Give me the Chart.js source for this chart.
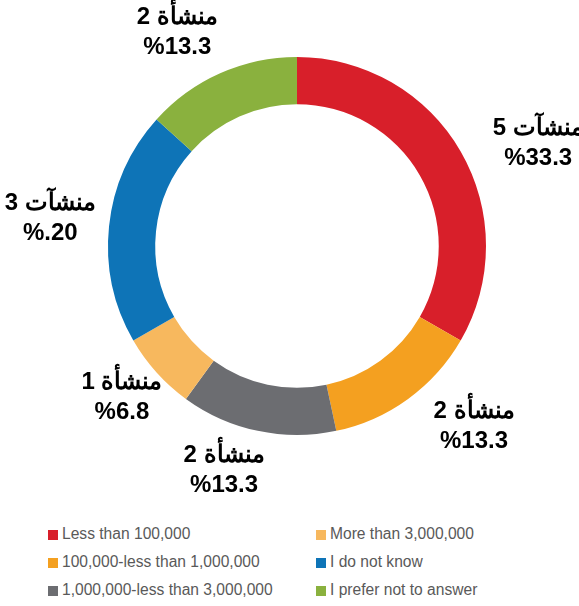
<!DOCTYPE html>
<html>
<head>
<meta charset="utf-8">
<script src="https://cdn.jsdelivr.net/npm/chart.js@4/dist/chart.umd.min.js"></script>
<style>
  body { margin: 0; background: #fff; }
  #wrap { position: relative; width: 579px; height: 606px; }
  #box { position: absolute; left: 0; top: 0; width: 579px; height: 510px; }
  .leg { position: absolute; font: 15.6px "Liberation Sans", Arial, sans-serif; color: #595959; white-space: nowrap; line-height: 18px; }
  .leg span { display: inline-block; width: 10px; height: 10px; margin-right: 4px; vertical-align: -1px; }
</style>
</head>
<body>
<div id="wrap">
  <div id="box"><canvas id="grafico"></canvas></div>
  <div id="legenda"></div>
</div>
<script>
// dados
const categorias = ["Less than 100,000", "100,000-less than 1,000,000", "1,000,000-less than 3,000,000", "More than 3,000,000", "I do not know", "I prefer not to answer"];
const contagens = [5, 2, 2, 1, 3, 2];
const rotulosQtd = ["5 منشآت", "2 منشأة", "2 منشأة", "1 منشأة", "3 منشآت", "2 منشأة"];
const rotulosPct = ["%33.3", "%13.3", "%13.3", "%6.8", "%.20", "%13.3"];
const cores = ["#d81f2a", "#f4a020", "#6c6d71", "#f7b85e", "#0e74b7", "#8ab13e"];

// ajuste fino dos rotulos (px)
const ajustes = [[29, 20], [33, -18], [-22, -15], [7, -13], [-3, -2], [-20, 10]];

const rotulosPlugin = {
  id: "rotulos",
  afterDatasetsDraw(chart) {
    const c = chart.ctx;
    const meta = chart.getDatasetMeta(0);
    c.save();
    c.fillStyle = "#000";
    c.font = "bold 24px 'Liberation Sans', Arial, sans-serif";
    c.textBaseline = "middle";
    meta.data.forEach((arc, i) => {
      const p = arc.getProps(["x", "y", "startAngle", "endAngle", "outerRadius"], true);
      const mid = (p.startAngle + p.endAngle) / 2;
      const r = p.outerRadius + 56;
      const x = p.x + Math.cos(mid) * r + ajustes[i][0];
      const y = p.y + Math.sin(mid) * r + ajustes[i][1];
      // numero a esquerda, palavra a direita
      const partes = rotulosQtd[i].split(" ");
      const num = partes[0];
      const palavra = partes.slice(1).join(" ");
      const wNum = c.measureText(num).width;
      const wEsp = c.measureText(" ").width;
      const wPal = c.measureText(palavra).width;
      const x0 = x - (wNum + wEsp + wPal) / 2;
      c.textAlign = "left";
      c.fillText(num, x0, y - 15);
      c.fillText(palavra, x0 + wNum + wEsp, y - 15);
      c.textAlign = "center";
      c.fillText(rotulosPct[i], x, y + 15);
    });
    c.restore();
  }
};

const ctx = document.getElementById("grafico").getContext("2d");
const grafico = new Chart(ctx, {
  type: "doughnut",
  data: {
    labels: categorias,
    datasets: [{ data: contagens, backgroundColor: cores, borderWidth: 0 }]
  },
  options: {
    responsive: true,
    maintainAspectRatio: false,
    animation: false,
    cutout: "75%",
    layout: { padding: { top: 57, bottom: 75, left: 15, right: 0 } },
    plugins: { legend: { display: false }, tooltip: { enabled: false } }
  },
  plugins: [rotulosPlugin]
});

// legenda em duas colunas
const legenda = document.getElementById("legenda");
const colX = [48, 316];
const linhaY = [525, 553, 581];
categorias.forEach((nome, i) => {
  const d = document.createElement("div");
  d.className = "leg";
  d.style.left = colX[Math.floor(i / 3)] + "px";
  d.style.top = linhaY[i % 3] + "px";
  d.innerHTML = `<span style="background:${cores[i]}"></span>${nome}`;
  legenda.appendChild(d);
});
</script>
</body>
</html>
